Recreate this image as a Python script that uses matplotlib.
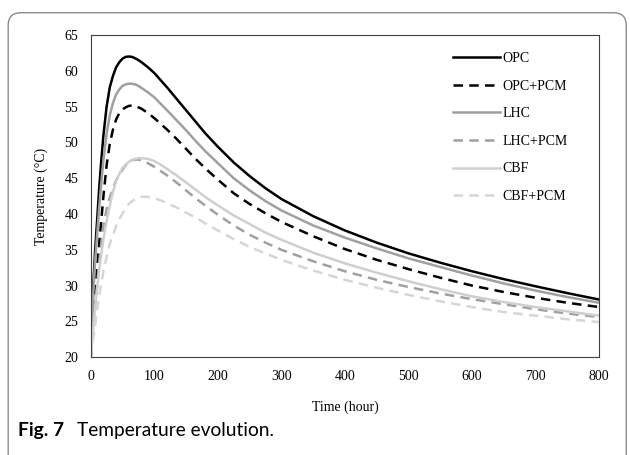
import matplotlib
matplotlib.use("Agg")
import matplotlib.pyplot as plt
from matplotlib.patches import FancyBboxPatch

# time axis (hours) and temperature readings (deg C)
hours = [0, 2, 4, 7, 10, 13, 16, 20, 25, 30, 35, 40, 45, 50, 55, 60, 65, 70, 75, 80,
         90, 100, 110, 120, 135, 150, 165, 180, 200, 225, 250, 275, 300, 350, 400,
         450, 500, 550, 600, 650, 700, 750, 800]

opc = [20, 25, 30, 35, 39, 43.2, 46.8, 51, 55, 57.7, 59.3, 60.5, 61.2, 61.7, 61.95, 62.0,
       61.95, 61.75, 61.5, 61.2, 60.5, 59.7, 58.7, 57.7, 56.1, 54.5, 52.9, 51.3, 49.4,
       47.2, 45.3, 43.6, 42.1, 39.7, 37.7, 36.0, 34.5, 33.2, 32.0, 30.9, 29.9, 28.95, 28.05]
opc_pcm = [20, 22.5, 25, 29, 32.5, 35.5, 38.5, 42.5, 46.8, 49.8, 51.8, 53.2, 54.1, 54.6,
           54.9, 55.1, 55.15, 55.1, 54.9, 54.7, 54.1, 53.4, 52.6, 51.8, 50.5, 49.1, 47.7,
           46.4, 44.8, 42.9, 41.4, 40.1, 38.9, 36.9, 35.1, 33.6, 32.3, 31.1, 30.0, 29.1,
           28.3, 27.6, 27.0]
lhc = [20, 24.5, 29, 33.5, 37, 40.5, 43.7, 47.5, 51.2, 53.8, 55.5, 56.7, 57.4, 57.9, 58.1,
       58.2, 58.2, 58.1, 57.9, 57.6, 57.0, 56.3, 55.4, 54.5, 53.1, 51.7, 50.2, 48.8, 47.1,
       45.0, 43.3, 41.8, 40.5, 38.4, 36.7, 35.2, 33.8, 32.6, 31.4, 30.3, 29.3, 28.4, 27.6]
lhc_pcm = [20, 22, 24, 27, 30, 33, 35.5, 38.3, 40.7, 42.3, 43.6, 44.7, 45.5, 46.2, 46.8,
           47.2, 47.5, 47.6, 47.6, 47.5, 47.1, 46.6, 46.0, 45.4, 44.4, 43.3, 42.2, 41.2,
           39.9, 38.4, 37.1, 36.0, 35.0, 33.4, 32.0, 30.8, 29.8, 28.9, 28.1, 27.4, 26.7,
           26.1, 25.6]
cbf = [20, 22, 24, 27, 29.5, 32, 34, 36.5, 39, 41.2, 43.1, 44.6, 45.6, 46.4, 46.9, 47.3,
       47.55, 47.7, 47.8, 47.8, 47.7, 47.4, 46.9, 46.3, 45.4, 44.4, 43.4, 42.4, 41.2,
       39.8, 38.6, 37.4, 36.4, 34.6, 33.1, 31.8, 30.6, 29.5, 28.5, 27.7, 27.0, 26.4, 25.8]
cbf_pcm = [20, 21.2, 22.5, 24.5, 26.5, 28.3, 30, 32, 34, 35.8, 37.1, 38.3, 39.3, 40.1,
           40.8, 41.4, 41.8, 42.1, 42.3, 42.4, 42.4, 42.2, 41.9, 41.5, 40.9, 40.2, 39.5,
           38.7, 37.7, 36.5, 35.4, 34.5, 33.6, 32.1, 30.8, 29.7, 28.7, 27.8, 27.0, 26.3,
           25.8, 25.3, 24.9]

series = [
    ("OPC", opc, "#000000", "-"),
    ("OPC+PCM", opc_pcm, "#000000", "--"),
    ("LHC", lhc, "#a0a0a0", "-"),
    ("LHC+PCM", lhc_pcm, "#a0a0a0", "--"),
    ("CBF", cbf, "#cfcfcf", "-"),
    ("CBF+PCM", cbf_pcm, "#d6d6d6", "--"),
]

plt.rcParams["font.family"] = ["Liberation Serif", "DejaVu Serif"]

fig = plt.figure(figsize=(6.3, 4.55), dpi=100)
ax = fig.add_axes([0.144, 0.215, 0.807, 0.708])

for name, vals, col, ls in series:
    line, = ax.plot(hours, vals, color=col, lw=1.8, label=name)
    if ls == "--":
        line.set_dashes((3.8, 2.5))

ax.set_xlim(0, 800)
ax.set_ylim(20, 65)
ax.set_xticks(range(0, 801, 100))
ax.set_yticks(range(20, 66, 5))
ax.tick_params(length=0, labelsize=10, pad=9)
for sp in ax.spines.values():
    sp.set_color("#404040")
    sp.set_linewidth(0.8)

ax.set_xlabel("Time (hour)", fontsize=10, labelpad=13)
ax.set_ylabel("Temperature (°C)", fontsize=10, labelpad=12)

leg = ax.legend(loc="upper right", frameon=False, fontsize=10, handlelength=3.4,
                handletextpad=0.15, labelspacing=1.05, borderaxespad=0.6,
                bbox_to_anchor=(0.965, 0.99))

# rounded outer frame of the figure panel
frame = FancyBboxPatch((0.013, -0.05), 0.981, 1.022, boxstyle="round,pad=0,rounding_size=0.02",
                       transform=fig.transFigure, fill=False, edgecolor="#8a8a8a", lw=1.0,
                       mutation_aspect=630 / 455)
fig.patches.append(frame)

fig.text(0.028, 0.042, "Fig. 7", fontsize=13.8, fontweight="bold", family="Lato", va="baseline")
fig.text(0.122, 0.042, "Temperature evolution.", fontsize=13.8, family="Lato", va="baseline")

fig.savefig("out.png", dpi=100)
